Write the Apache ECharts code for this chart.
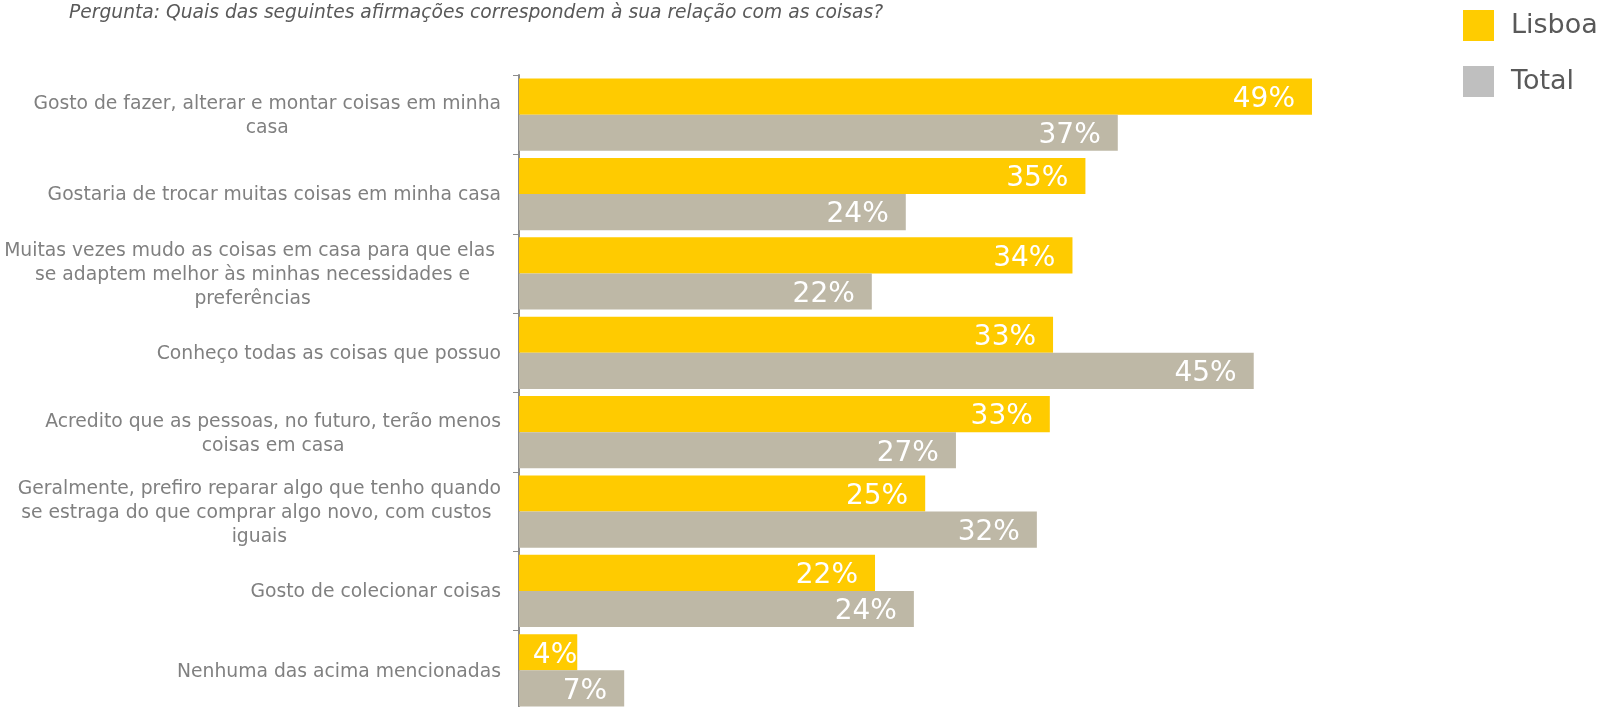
<!DOCTYPE html>
<html>
<head>
<meta charset="utf-8">
<script src="https://cdn.jsdelivr.net/npm/echarts@6/dist/echarts.min.js"></script>
<style>
html,body{margin:0;padding:0;background:#fff;}
#chart{width:1602px;height:707px;}
</style>
</head>
<body>
<div id="chart"></div>
<script>
const titleText = 'Pergunta: Quais das seguintes afirmações correspondem à sua relação com as coisas?';
const categories = [
  'Gosto de fazer, alterar e montar coisas em minha\ncasa',
  'Gostaria de trocar muitas coisas em minha casa',
  'Muitas vezes mudo as coisas em casa para que elas \nse adaptem melhor às minhas necessidades e\npreferências',
  'Conheço todas as coisas que possuo',
  'Acredito que as pessoas, no futuro, terão menos\ncoisas em casa',
  'Geralmente, prefiro reparar algo que tenho quando\nse estraga do que comprar algo novo, com custos \niguais',
  'Gosto de colecionar coisas',
  'Nenhuma das acima mencionadas'
];
const seriesNames = ['Lisboa', 'Total'];
const lisboa = [49, 35, 34.2, 33, 32.8, 25.1, 22, 3.6];
const total = [37, 23.9, 21.8, 45.4, 27, 32, 24.4, 6.5];

const FONT = 'DejaVu Sans';
const chart = echarts.init(document.getElementById('chart'), null, {renderer: 'canvas'});

const labelCfg = {
  show: true,
  position: 'insideRight',
  distance: 17,
  offset: [0, 3],
  color: '#ffffff',
  fontFamily: FONT,
  fontSize: 28,
  formatter: p => Math.round(p.value) + '%'
};
// small bars: label sits flush at the bar end
const toData = arr => arr.map(v => v < 5 ? {value: v, label: {distance: 0}} : v);

chart.setOption({
  animation: false,
  title: {
    text: titleText,
    left: 69,
    top: 4,
    padding: 0,
    textStyle: {fontFamily: FONT, fontStyle: 'italic', fontWeight: 'normal', fontSize: 18.7, color: '#595959'}
  },
  legend: {
    orient: 'vertical',
    left: 1463,
    top: 10,
    padding: 0,
    itemWidth: 31,
    itemHeight: 31,
    itemGap: 25,
    icon: 'rect',
    textStyle: {fontFamily: FONT, fontSize: 27, color: '#595959', padding: [0, 0, 0, 12]},
    data: [
      {name: seriesNames[0], itemStyle: {color: '#ffcc00'}},
      {name: seriesNames[1], itemStyle: {color: '#bfbfbf'}}
    ]
  },
  grid: {left: 519, top: 75, height: 635, width: 971, containLabel: false, outerBoundsMode: 'none'},
  xAxis: {
    type: 'value',
    min: 0,
    max: 60,
    show: false
  },
  yAxis: {
    type: 'category',
    inverse: true,
    data: categories,
    axisLine: {show: true, lineStyle: {color: '#8c8c8c', width: 2}},
    axisTick: {show: true, length: 6, lineStyle: {color: '#8c8c8c', width: 1}},
    axisLabel: {
      margin: 18,
      padding: [3, 0, 0, 0],
      formatter: v => v.split('\n').map(l => '{c|' + l + '}').join('\n'),
      rich: {
        c: {align: 'center', fontFamily: FONT, fontSize: 18.75, color: '#808080', lineHeight: 24}
      }
    }
  },
  series: [
    {
      name: seriesNames[0],
      type: 'bar',
      data: toData(lisboa),
      barGap: '0%',
      barCategoryGap: '9%',
      itemStyle: {color: '#ffcb00'},
      label: labelCfg
    },
    {
      name: seriesNames[1],
      type: 'bar',
      data: toData(total),
      barGap: '0%',
      barCategoryGap: '9%',
      itemStyle: {color: '#beb8a6'},
      label: labelCfg
    }
  ]
});
</script>
</body>
</html>
